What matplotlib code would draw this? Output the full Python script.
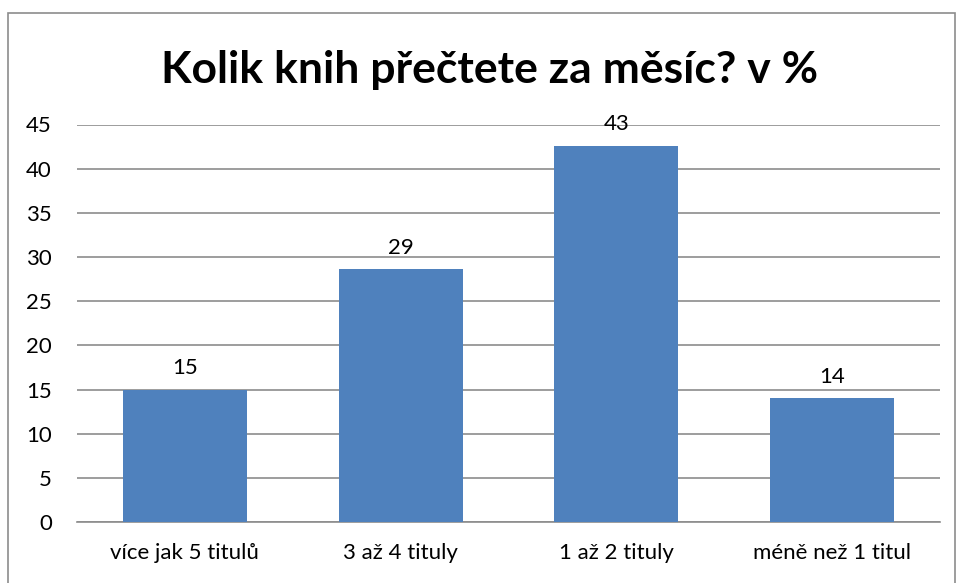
import matplotlib
matplotlib.use('Agg')
import matplotlib.pyplot as plt
from matplotlib.patches import Rectangle

categories = ['více jak 5 titulů', '3 až 4 tituly', '1 až 2 tituly', 'méně než 1 titul']
values = [15, 28.6, 42.6, 14]
yticks = [0, 5, 10, 15, 20, 25, 30, 35, 40, 45]
title = 'Kolik knih přečtete za měsíc? v %'

plt.rcParams['font.family'] = ['Lato', 'DejaVu Sans']

fig = plt.figure(figsize=(9.57, 5.83), dpi=100)
# vnější rámeček grafu
fig.patches.append(Rectangle((8 / 957, -0.05), (955 - 8) / 957, 1.05 - 13 / 583,
                             transform=fig.transFigure, fill=False,
                             edgecolor='#8c8c8c', linewidth=1.2))

ax = fig.add_axes([77 / 957, 1 - 522 / 583, (940 - 77) / 957, (522 - 124.5) / 583])
x = range(len(categories))
bars = ax.bar(x, values, width=0.575, color='#4F81BD', zorder=3)

for b, v in zip(bars, values):
    ax.text(b.get_x() + b.get_width() / 2, v + 1.3, str(int(v + 0.5)),
            ha='center', va='bottom', fontsize=16)

ax.set_xlim(-0.5, len(categories) - 0.5)
ax.set_ylim(0, 45)
ax.set_yticks(yticks)
ax.set_xticks(list(x))
ax.set_xticklabels(categories, fontsize=16)
ax.tick_params(axis='y', labelsize=16, length=0, pad=18)
ax.tick_params(axis='x', length=0, pad=15)
ax.yaxis.grid(True, color='#8c8c8c', linewidth=1.2, zorder=0)
for s in ['top', 'right', 'left']:
    ax.spines[s].set_visible(False)
ax.spines['bottom'].set_color('#8c8c8c')
ax.spines['bottom'].set_linewidth(1.2)

fig.text(490 / 957, 1 - 70 / 583, title, ha='center', va='center',
         fontsize=32, fontweight='bold')

fig.savefig('out.png', dpi=100)
